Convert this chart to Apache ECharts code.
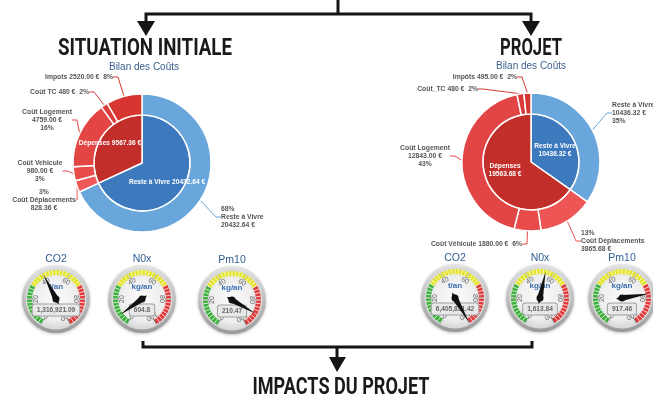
<!DOCTYPE html>
<html>
<head>
<meta charset="utf-8">
<style>
  html, body { margin: 0; padding: 0; background: #fff; }
  #main { width: 653px; height: 398px; }
</style>
<script src="https://cdn.jsdelivr.net/npm/echarts@6/dist/echarts.min.js"></script>
</head>
<body>
<div id="main"></div>
<script>
// ---- data ----
const innerNames = ['Reste à Vivre', 'Dépenses']
const innerInitial = [20432.64, 9567.36]
const innerProjet = [10436.32, 19563.68]

const outerNamesInitial = ['Reste à Vivre', 'Coût Déplacements', 'Coût Vehicule', 'Coût Logement', 'Coût TC', 'Impots']
const outerInitial = [20432.64, 828.36, 980.00, 4759.00, 480, 2520.00]
const outerNamesProjet = ['Reste à Vivre', 'Coût Déplacements', 'Coût Véhicule', 'Coût Logement', 'Coût_TC', 'Impôts']
const outerProjet = [10436.32, 3865.68, 1880.00, 12843.00, 480, 495.00]

const gaugeNames = ['CO2', 'N0x', 'Pm10']
const gaugeUnits = ['t/an', 'kg/an', 'kg/an']
const gaugeTicks = [0, 20, 40, 60, 80, 100]
const needleInitial = [41, 8, 90]
const needleProjet = [100, 54, 77]
const readingInitial = ['1,316,921.09', '604.8', '210.47']
const readingProjet = ['6,405,831.42', '1,613.84', '917.46']

// ---- styles / layout ----
const FONT = "'Liberation Sans', Arial, sans-serif"
const innerColors = ['#3d79bd', '#c22e2a']
const outerColorsInitial = ['#68a6db', '#ef5858', '#e94b4b', '#e34545', '#dc3d3a', '#d73630']
const outerColorsProjet = ['#68a6db', '#ee5555', '#e94b4b', '#e24545', '#d93c38', '#d4352f']

// label templates: P = percent, N = name, V = value
const fmtInitial = ['P\nN\nV', 'P\nN\nV', 'N\nV\nP', 'N\nV\nP', 'N V  P', 'N V  P']
const fmtProjet = ['N\nV\nP', 'P\nN\nV', 'N V  P', 'N\nV\nP', 'N V  P', 'N V  P']
const innerFmtInitial = 'N V'
const innerFmtProjet = 'N\nV'

const posInitial = [[221, 217, 'left'], [44, 200, 'center'], [40, 171, 'center'], [47, 120, 'center'], [89, 92, 'right'], [113, 77, 'right']]
const posProjet = [[612, 113, 'left'], [581, 241, 'left'], [522, 244, 'right'], [425, 156, 'center'], [478, 89, 'right'], [517, 77, 'right']]
const innerPosInitial = [[167, 182], [110, 143]]
const innerPosProjet = [[555, 150], [505, 170]]

const gaugeCentersInitial = [[56, 299], [142, 299], [232, 300]]
const gaugeCentersProjet = [[455, 298], [540, 298], [622, 298]]

function money(name, v) {
  return name.indexOf('TC') >= 0 ? String(v) : v.toFixed(2)
}

function fill(tpl, name, value, total) {
  const pct = Math.round(value / total * 100) + '%'
  return tpl.split('').map(c => c === 'P' ? pct : c === 'N' ? name : c === 'V' ? money(name, value) + ' €' : c).join('')
}

function sum(arr) { return arr.reduce((a, b) => a + b, 0) }

function costPies(center, innerVals, innerFmt, innerPos, names, vals, colors, fmts, pos) {
  const total = sum(vals)
  return [{
    type: 'pie',
    center: center,
    radius: [0, 48],
    startAngle: 90,
    silent: true,
    animation: false,
    itemStyle: { borderColor: '#fff', borderWidth: 1.5 },
    data: innerNames.map((n, i) => ({ name: n, value: innerVals[i], itemStyle: { color: innerColors[i] } })),
    label: {
      position: 'inside',
      color: '#fff',
      fontFamily: FONT,
      fontWeight: 'bold',
      fontSize: 6.6,
      lineHeight: 8,
      overflow: 'none',
      formatter: p => fill(innerFmt, p.name, p.value, total)
    },
    labelLine: { show: false },
    labelLayout: p => ({ x: innerPos[p.dataIndex][0], y: innerPos[p.dataIndex][1], align: 'center', verticalAlign: 'middle' })
  }, {
    type: 'pie',
    center: center,
    radius: [48, 69],
    startAngle: 90,
    silent: true,
    animation: false,
    itemStyle: { borderColor: '#fff', borderWidth: 1.5 },
    data: names.map((n, i) => ({ name: n, value: vals[i], itemStyle: { color: colors[i] } })),
    label: {
      color: '#555',
      fontFamily: FONT,
      fontWeight: 'bold',
      fontSize: 6.8,
      lineHeight: 8,
      overflow: 'none',
      formatter: p => fill(fmts[p.dataIndex], p.name, p.value, total)
    },
    labelLine: { show: true, length: 6, length2: 5, lineStyle: { width: 1 } },
    labelLayout: p => ({ x: pos[p.dataIndex][0], y: pos[p.dataIndex][1], align: pos[p.dataIndex][2], verticalAlign: 'middle' })
  }]
}

function gaugeSet(center, i, needle, reading) {
  const common = {
    type: 'gauge',
    center: center,
    radius: 29,
    startAngle: 240,
    endAngle: -60,
    min: gaugeTicks[0],
    max: gaugeTicks[gaugeTicks.length - 1],
    splitNumber: gaugeTicks.length - 1,
    animation: false,
    silent: true
  }
  return [{
    type: 'pie', center: center, radius: [0, 34], silent: true, animation: false, z: 1,
    label: { show: false }, labelLine: { show: false },
    itemStyle: {
      color: { type: 'linear', x: 0, y: 0, x2: 0, y2: 1, colorStops: [{ offset: 0, color: '#e4e4e4' }, { offset: 1, color: '#9a9a9a' }] },
      shadowBlur: 3, shadowColor: 'rgba(0,0,0,0.25)', shadowOffsetY: 1
    },
    data: [{ value: 1, name: 'bezel' }]
  }, {
    type: 'pie', center: center, radius: [0, 30.5], silent: true, animation: false, z: 1,
    label: { show: false }, labelLine: { show: false },
    itemStyle: {
      color: { type: 'radial', x: 0.5, y: 0.5, r: 0.5, colorStops: [{ offset: 0, color: '#fbfbfb' }, { offset: 0.7, color: '#eeeeee' }, { offset: 1, color: '#d6d6d6' }] }
    },
    data: [{ value: 1, name: 'face' }]
  }, Object.assign({}, common, {
    z: 4,
    axisLine: { lineStyle: { width: 5, color: [[0.3, '#3db03d'], [0.7, '#e4e42c'], [1, '#e23a3a']] } },
    axisTick: { show: true, splitNumber: 8, distance: -5, length: 5, lineStyle: { color: 'rgba(255,255,255,0.75)', width: 1 } },
    splitLine: { show: true, distance: -5, length: 6, lineStyle: { color: 'rgba(60,60,60,0.7)', width: 1 } },
    axisLabel: { distance: 8, color: '#666', fontSize: 7, fontFamily: FONT, rotate: 'tangential' },
    pointer: { show: false },
    anchor: { show: false },
    title: { offsetCenter: [0, -12], color: '#3c6db0', fontSize: 8, fontWeight: 'bold', fontFamily: FONT },
    detail: {
      offsetCenter: [0, 11],
      formatter: () => '{b|' + reading + '}',
      rich: {
        b: {
          color: '#666',
          fontSize: 6.6,
          fontWeight: 'bold',
          fontFamily: FONT,
          backgroundColor: '#e8e8e8',
          borderColor: '#a0a0a0',
          borderWidth: 1,
          borderRadius: 2,
          padding: [2, 4]
        }
      }
    },
    data: [{ value: needle, name: gaugeUnits[i] }]
  }), Object.assign({}, common, {
    z: 5,
    axisLine: { show: false },
    axisTick: { show: false },
    splitLine: { show: false },
    axisLabel: { show: false },
    pointer: { show: true, length: 27, width: 3, itemStyle: { color: '#111' } },
    anchor: { show: true, size: 7, itemStyle: { color: '#111' } },
    title: { offsetCenter: [0, -40], color: '#2f5d93', fontSize: 10.5, fontFamily: FONT },
    detail: { show: false },
    data: [{ value: needle, name: gaugeNames[i] }]
  })]
}

// condensed headline text, squeezed to width
const measureCtx = document.createElement('canvas').getContext('2d')
function headline(text, cx, cy, width) {
  const font = "bold 23px Roboto, 'Liberation Sans', sans-serif"
  measureCtx.font = font
  const s = width / measureCtx.measureText(text).width
  return {
    type: 'text', x: cx, y: cy, scaleX: s, scaleY: 1,
    style: { text: text, font: font, fill: '#1a1a1a', textAlign: 'center', textVerticalAlign: 'middle', align: 'center', verticalAlign: 'middle' }
  }
}
function subtitle(text, cx, cy) {
  return {
    type: 'text', x: cx, y: cy,
    style: { text: text, font: "10px 'Liberation Sans', sans-serif", fill: '#3a5f8c', textAlign: 'center', textVerticalAlign: 'middle', align: 'center', verticalAlign: 'middle' }
  }
}
const lineStyle = { stroke: '#151515', lineWidth: 3, fill: null }
const arrowStyle = { fill: '#151515' }

const series = [].concat(
  costPies([142, 163], innerInitial, innerFmtInitial, innerPosInitial, outerNamesInitial, outerInitial, outerColorsInitial, fmtInitial, posInitial),
  costPies([531, 162], innerProjet, innerFmtProjet, innerPosProjet, outerNamesProjet, outerProjet, outerColorsProjet, fmtProjet, posProjet)
)
gaugeNames.forEach((n, i) => {
  series.push(...gaugeSet(gaugeCentersInitial[i], i, needleInitial[i], readingInitial[i]))
  series.push(...gaugeSet(gaugeCentersProjet[i], i, needleProjet[i], readingProjet[i]))
})

const chart = echarts.init(document.getElementById('main'), null, { renderer: 'canvas', width: 653, height: 398 })
chart.setOption({
  backgroundColor: '#fff',
  animation: false,
  graphic: [
    // top connector
    { type: 'polyline', shape: { points: [[338, 0], [338, 14]] }, style: lineStyle },
    { type: 'polyline', shape: { points: [[146, 22], [146, 14], [531, 14], [531, 22]] }, style: lineStyle },
    { type: 'polygon', shape: { points: [[137, 21], [155, 21], [146, 36]] }, style: arrowStyle },
    { type: 'polygon', shape: { points: [[522, 21], [540, 21], [531, 36]] }, style: arrowStyle },
    // bottom connector
    { type: 'polyline', shape: { points: [[143, 341], [143, 347], [532, 347], [532, 341]] }, style: lineStyle },
    { type: 'polyline', shape: { points: [[337, 347], [337, 358]] }, style: lineStyle },
    { type: 'polygon', shape: { points: [[329, 357], [346, 357], [337, 372]] }, style: arrowStyle },
    headline('SITUATION INITIALE', 145, 49, 174),
    headline('PROJET', 531, 49, 62),
    headline('IMPACTS DU PROJET', 341, 388, 177),
    subtitle('Bilan des Coûts', 144, 67),
    subtitle('Bilan des Coûts', 531, 66)
  ],
  series: series
})
</script>
</body>
</html>
